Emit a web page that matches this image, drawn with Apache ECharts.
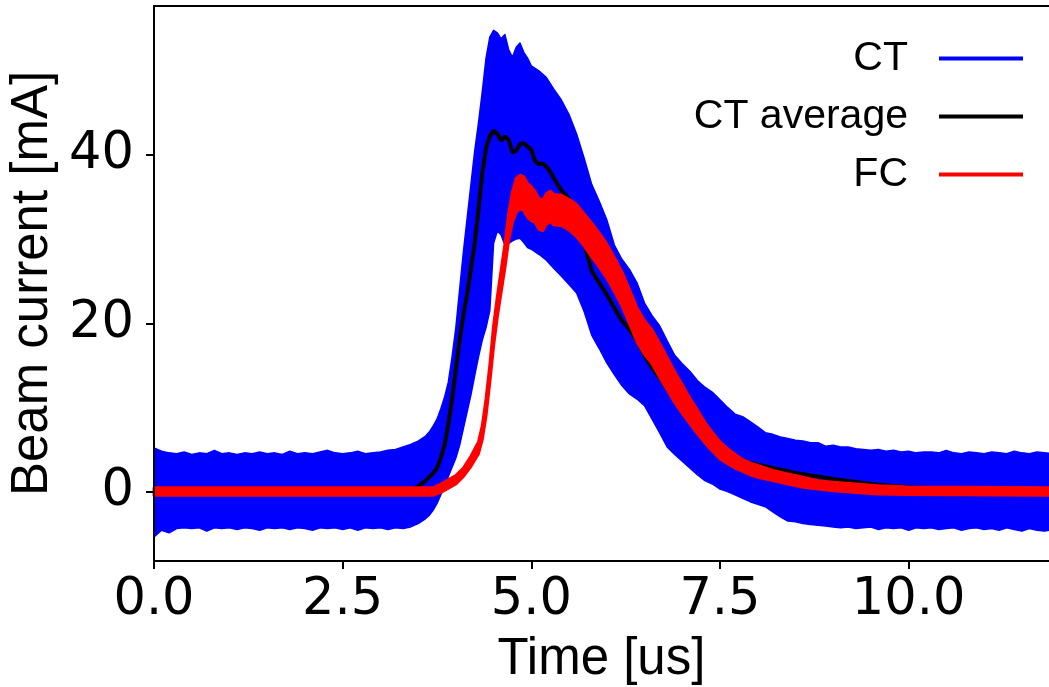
<!DOCTYPE html>
<html><head><meta charset="utf-8">
<script src="https://cdn.jsdelivr.net/npm/echarts@6/dist/echarts.min.js"></script>
<style>html,body{margin:0;padding:0;background:#fff}#c{width:1049px;height:687px}</style>
</head><body><div id="c"></div>
<script>
// ---- data ----
const ctTime = [0,0.1,0.2,0.3,0.4,0.5,0.6,0.7,0.8,0.9,1.0,1.1,1.2,1.3,1.4,1.5,1.6,1.7,1.8,1.9,2.0,2.1,2.2,2.3,2.4,2.5,2.6,2.7,2.8,2.9,3.0,3.1,3.2,3.3,3.4,
  3.5,3.55,3.6,3.65,3.7,3.75,3.8,3.85,3.9,3.95,4.0,4.05,4.1,4.15,4.2,4.25,4.3,4.35,4.4,4.45,4.5,4.55,4.6,4.65,4.7,4.75,4.8,4.85,4.9,4.95,5.0,
  5.1,5.2,5.3,5.4,5.5,5.6,5.7,5.8,5.9,6.0,6.1,6.2,6.3,6.4,6.5,6.6,6.7,6.8,6.9,7.0,7.1,7.2,7.3,7.4,7.5,7.6,7.7,7.8,7.9,8.0,
  8.1,8.2,8.3,8.4,8.5,8.6,8.7,8.8,8.9,9.0,9.1,9.2,9.3,9.4,9.5,9.6,9.7,9.8,9.9,10.0,10.1,10.2,10.3,10.4,10.5,10.6,10.7,10.8,10.9,11.0,
  11.1,11.2,11.3,11.4,11.5,11.6,11.7,11.8,11.9];
const ctUpper = [5.2,4.8,4.6,4.5,4.7,4.4,4.6,4.5,4.9,4.5,4.6,4.4,4.6,4.5,4.7,4.5,4.6,4.4,4.8,4.5,4.6,4.5,4.7,4.9,4.6,4.5,4.6,4.8,4.5,4.6,4.7,4.9,5.0,5.3,5.6,
  6.0,6.3,6.6,7.1,7.8,8.6,9.8,11.2,13.0,16.0,19.5,24.0,28.5,32.5,36.5,40.5,43.8,47.5,51.5,54.0,54.8,54.5,53.8,54.3,52.5,51.6,52.8,53.3,52.2,51.5,50.6,
  50.0,49.2,47.8,46.5,44.8,42.5,39.6,36.5,34.5,32.3,29.3,27.6,26.4,24.8,22.4,20.9,19.7,17.9,16.2,15.2,14.3,13.2,12.4,11.8,10.9,10.0,9.2,8.9,8.3,7.7,
  7.0,6.8,6.5,6.3,6.1,6.0,5.8,5.8,5.4,5.5,5.3,5.3,5.1,5.0,4.9,5.0,4.8,4.9,4.7,4.8,4.6,4.7,4.7,4.6,4.9,4.6,4.5,4.7,4.6,4.5,
  4.7,4.6,4.5,4.8,4.6,4.5,4.7,4.6,4.5];
const ctLower = [-5.4,-4.6,-4.9,-4.4,-4.3,-4.4,-4.3,-4.7,-4.3,-4.4,-4.3,-4.5,-4.3,-4.4,-4.6,-4.3,-4.4,-4.3,-4.5,-4.3,-4.4,-4.6,-4.3,-4.4,-4.3,-4.5,-4.3,-4.6,-4.3,-4.4,-4.3,-4.5,-4.3,-4.4,-4.2,
  -3.8,-3.5,-3.2,-2.8,-2.2,-1.4,-0.4,0.6,1.8,2.9,4.0,5.5,7.5,9.5,11.5,13.8,16.0,18.0,19.5,21.5,29.5,31.0,30.5,29.3,29.5,29.8,30.0,30.1,29.6,29.0,28.8,
  28.2,27.5,26.5,25.6,24.6,23.6,21.4,18.6,17.0,15.3,13.9,12.6,11.6,11.0,10.2,8.6,7.0,5.3,4.4,3.6,2.8,2.0,1.3,0.9,0.3,0.0,-0.4,-0.8,-1.2,-1.5,
  -1.8,-2.4,-3.0,-3.5,-3.6,-3.8,-3.9,-4.0,-4.1,-4.2,-4.3,-4.2,-4.4,-4.3,-4.2,-4.5,-4.3,-4.4,-4.3,-4.6,-4.3,-4.4,-4.3,-4.5,-4.4,-4.3,-4.6,-4.4,-4.3,-4.5,
  -4.4,-4.6,-4.3,-4.5,-4.7,-4.4,-4.6,-4.7,-4.5];

const avgTime  = [0,1,2,3,3.4,3.5,3.6,3.7,3.75,3.8,3.85,3.9,3.95,4.0,4.05,4.1,4.15,4.2,4.25,4.3,4.35,4.4,4.45,4.5,4.55,4.6,4.65,4.7,4.75,4.8,4.85,4.9,4.95,5.0,
  5.05,5.1,5.15,5.2,5.25,5.3,5.4,5.5,5.6,5.7,5.8,5.9,6.0,6.1,6.2,6.3,6.4,6.5,6.6,6.7,6.8,6.9,7.0,7.2,7.4,7.6,7.8,8.0,8.2,8.5,9.0,9.5,10,10.5,11,11.9];
const avgValue = [0.1,0.1,0.1,0.1,0.2,0.6,1.3,2.2,2.8,4.0,5.5,8.0,11.0,14.5,18.0,21.0,23.5,26.5,29.5,33.5,37.8,40.8,42.2,42.9,42.5,41.7,42.2,41.8,40.3,40.5,41.3,41.4,41.0,40.6,
  39.3,38.9,39.0,38.6,38.0,37.2,35.8,34.8,32.5,29.5,26.2,24.8,23.4,21.8,20.3,19.3,17.9,16.2,14.7,13.5,12.2,10.9,9.6,7.2,5.4,4.2,3.6,3.2,2.8,2.2,1.5,0.9,0.5,0.3,0.2,0.2];

const fcTime  = [0,3.7,3.8,3.9,4.0,4.1,4.2,4.3,4.35,4.4,4.45,4.5,4.55,4.6,4.65,4.7,4.75,4.8,4.85,4.9,4.95,5.0,5.05,5.1,5.15,5.2,5.25,5.3,
  5.4,5.5,5.6,5.7,5.8,5.9,6.0,6.1,6.2,6.3,6.4,6.5,6.6,6.7,6.8,6.9,7.0,7.1,7.2,7.3,7.4,7.5,7.6,7.7,7.8,7.9,8.0,8.2,8.4,8.6,8.8,9.0,9.3,9.6,10.0,11.9];
const fcLower = [-0.45,-0.45,-0.1,0.4,0.9,1.8,3.0,4.5,6.2,9.0,13.0,17.3,20.8,23.7,26.6,29.9,32.0,33.2,33.6,33.4,32.6,32.2,32.0,31.2,31.0,31.8,32.1,31.7,
  31.6,31.1,30.3,29.2,27.9,26.7,25.4,23.8,22.1,20.0,17.8,16.3,15.2,13.6,12.1,10.6,9.3,8.1,6.9,5.8,4.8,3.9,3.3,2.8,2.4,2.0,1.7,1.3,0.9,0.5,0.3,0.1,-0.1,-0.3,-0.35,-0.45];
const fcUpper = [0.45,0.45,0.9,1.4,1.9,2.8,4.2,5.9,7.8,11.0,15.0,19.7,23.2,26.3,29.4,33.1,35.6,37.2,37.6,37.4,36.6,36.2,35.6,34.8,34.6,35.4,35.7,35.3,
  35.2,34.7,34.1,33.0,31.9,30.7,29.4,27.8,26.1,24.0,21.8,20.3,19.2,17.6,15.9,14.2,12.7,11.1,9.7,8.2,7.0,5.9,5.1,4.4,3.8,3.4,3.1,2.5,2.1,1.7,1.3,1.1,0.9,0.7,0.55,0.45];

const xTicks = [0, 2.5, 5, 7.5, 10];
const yTicks = [0, 20, 40];
const legendNames = ['CT', 'CT average', 'FC'];

// ---- chart ----
const BLUE = '#0000ff', RED = '#ff0000', BLACK = '#000000';
const pairs = (xs, ys) => xs.map((x, i) => [x, ys[i]]);
const triples = (xs, lo, hi) => xs.map((x, i) => [x, lo[i], hi[i]]);

// Draws a filled band (upper edge forward, lower edge back) through the axis scales.
function bandRenderer(xs, lo, hi, color, edgeWidth) {
  return function (params, api) {
    if (params.dataIndex !== 0) return null;
    const pts = [];
    for (let i = 0; i < xs.length; i++) pts.push(api.coord([xs[i], hi[i]]));
    for (let i = xs.length - 1; i >= 0; i--) pts.push(api.coord([xs[i], lo[i]]));
    return {type: 'polygon', shape: {points: pts},
            style: {fill: color, stroke: color, lineWidth: edgeWidth, lineJoin: 'round'}};
  };
}

const chart = echarts.init(document.getElementById('c'), null, {renderer: 'canvas'});
const tickFont = {fontFamily: 'DejaVu Sans', fontSize: 51, color: BLACK, lineHeight: 51};
const nameFont = {fontFamily: 'Liberation Sans', fontSize: 51, color: BLACK, lineHeight: 51};
const axisLine = {show: true, onZero: false, lineStyle: {color: BLACK, width: 2}};

chart.setOption({
  animation: false,
  backgroundColor: '#ffffff',
  grid: {left: 154, right: 0, top: 6, bottom: 126, containLabel: false, outerBoundsMode: 'none'},
  legend: {
    orient: 'vertical', right: 26, top: 38, align: 'right', padding: 0, itemGap: 17,
    itemWidth: 84, itemHeight: 4, icon: 'rect', selectedMode: false, data: legendNames,
    textStyle: {fontFamily: 'Liberation Sans', fontSize: 41, color: BLACK, lineHeight: 41, padding: [0, 26, 0, 0]}
  },
  xAxis: [{
    type: 'value', min: 0, max: 11.86, position: 'bottom', z: 10,
    axisLine: axisLine,
    axisTick: {show: true, customValues: xTicks, length: 8, lineStyle: {color: BLACK, width: 2}},
    axisLabel: Object.assign({customValues: xTicks, margin: 14, formatter: v => Number(v).toFixed(1)}, tickFont),
    splitLine: {show: false},
    name: 'Time [us]', nameLocation: 'middle', nameGap: 73, nameTextStyle: nameFont
  }, {
    type: 'value', min: 0, max: 11.86, position: 'top', z: 10,
    axisLine: axisLine, axisTick: {show: false}, axisLabel: {show: false}, splitLine: {show: false}
  }],
  yAxis: {
    type: 'value', min: -8.25, max: 57.7, z: 10,
    axisLine: axisLine,
    axisTick: {show: true, customValues: yTicks, length: 8, lineStyle: {color: BLACK, width: 2}},
    axisLabel: Object.assign({customValues: yTicks, margin: 20}, tickFont),
    splitLine: {show: false},
    name: 'Beam current [mA]', nameLocation: 'middle', nameGap: 95, nameTextStyle: nameFont
  },
  series: [
    {name: 'CT', type: 'custom', z: 2, data: triples(ctTime, ctLower, ctUpper), encode: {x: 0, y: [1, 2]},
     itemStyle: {color: BLUE}, renderItem: bandRenderer(ctTime, ctLower, ctUpper, BLUE, 1.5)},
    {name: 'CT average', type: 'line', z: 3, data: pairs(avgTime, avgValue),
     symbol: 'none', lineStyle: {color: BLACK, width: 4}, itemStyle: {color: BLACK}},
    {name: 'FC', type: 'custom', z: 4, data: triples(fcTime, fcLower, fcUpper), encode: {x: 0, y: [1, 2]},
     itemStyle: {color: RED}, renderItem: bandRenderer(fcTime, fcLower, fcUpper, RED, 3)}
  ]
});
</script>
</body></html>
